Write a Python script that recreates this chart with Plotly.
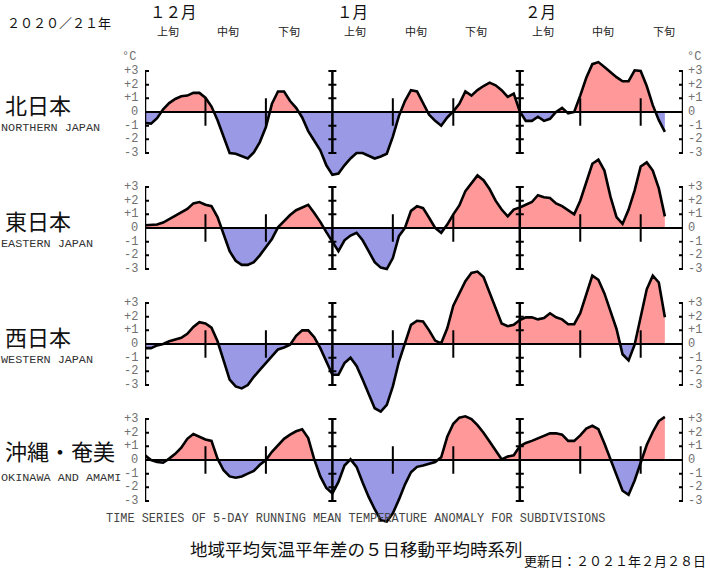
import pandas as pd
import plotly.graph_objects as go

# ---------------- data ----------------
dates = pd.date_range("2020-12-01", "2021-02-25", freq="D")  # centre dates of 5-day running mean

north = [
    -0.8, -0.85, -0.45, 0.2, 0.65, 0.95, 1.15, 1.2, 1.4, 1.4,
    1.05, 0.4, -0.6, -1.8, -3.0, -3.05, -3.25, -3.4, -2.95, -2.2,
    -1.1, 0.6, 1.5, 1.5, 0.8, 0.3, -0.4, -1.4, -2.1, -2.8,
    -3.9, -4.6, -4.5, -3.9, -3.4, -3.0, -3.0, -3.2, -3.4, -3.25,
    -3.05, -1.8, -0.3, 0.8, 1.6, 1.5, 0.6, -0.2, -0.65, -1.0,
    -0.4, 0.05, 0.6, 1.5, 1.2, 1.6, 1.9, 2.15, 1.95, 1.6,
    1.1, 1.35, 0.05, -0.65, -0.65, -0.35, -0.65, -0.5, 0.0, 0.3,
    -0.1, 0.0, 1.2, 2.5, 3.5, 3.65, 3.3, 2.9, 2.55, 2.25,
    2.25, 3.05, 3.0, 1.9, 0.5, -0.6, -1.45]

east = [
    0.2, 0.2, 0.25, 0.4, 0.65, 0.85, 1.1, 1.4, 1.8, 1.9,
    1.7, 1.6, 0.8, -0.5, -1.7, -2.4, -2.7, -2.7, -2.5, -2.0,
    -1.4, -0.8, 0.05, 0.5, 0.95, 1.3, 1.5, 1.7, 1.1, 0.45,
    -0.3, -1.0, -1.7, -0.9, -0.55, -0.35, -0.9, -1.7, -2.5, -2.9,
    -3.0, -2.2, -0.6, 0.0, 1.25, 1.6, 1.45, 0.75, 0.0, -0.35,
    0.25, 1.0, 1.65, 2.7, 3.3, 3.85, 3.5, 2.85, 2.0, 1.35,
    0.85, 1.35, 1.5, 1.7, 1.9, 2.4, 2.25, 2.2, 1.8, 1.6,
    1.3, 1.0, 2.0, 3.4, 4.7, 5.0, 4.2, 2.3, 0.8, 0.3,
    1.35, 2.75, 4.5, 4.8, 4.2, 2.9, 0.85]

west = [
    -0.3, -0.3, -0.1, 0.0, 0.2, 0.3, 0.45, 0.75, 1.25, 1.6,
    1.5, 1.2, 0.2, -1.2, -2.6, -3.1, -3.25, -3.0, -2.4, -1.9,
    -1.4, -0.9, -0.4, -0.25, -0.05, 0.6, 1.0, 1.0, 0.5, -0.3,
    -1.3, -2.25, -2.25, -1.4, -1.0, -1.6, -2.6, -3.7, -4.7, -4.95,
    -4.45, -3.1, -1.3, 0.05, 1.4, 1.7, 1.65, 1.0, 0.25, 0.05,
    1.15, 2.8, 3.7, 4.6, 5.2, 5.3, 4.9, 3.8, 2.6, 1.5,
    1.3, 1.4, 1.75, 1.95, 1.95, 1.8, 1.9, 2.25, 1.95, 1.8,
    1.45, 1.45, 2.25, 3.6, 5.0, 4.7, 3.7, 2.4, 1.1, -0.75,
    -1.2, -0.05, 2.1, 4.0, 5.0, 4.5, 1.95]

okinawa = [
    0.35, 0.0, -0.15, -0.2, 0.1, 0.45, 0.9, 1.55, 1.9, 1.7,
    1.5, 1.4, 0.1, -0.75, -1.2, -1.3, -1.2, -1.0, -0.8, -0.35,
    0.0, 0.6, 1.1, 1.55, 1.85, 2.1, 2.25, 1.6, 0.05, -1.2,
    -2.05, -2.45, -1.6, -0.4, 0.05, -0.5, -1.65, -2.7, -3.6, -4.4,
    -4.5, -3.9, -2.9, -1.8, -0.9, -0.5, -0.4, -0.3, -0.15, 0.2,
    1.7, 2.65, 3.1, 3.2, 3.0, 2.55, 2.0, 1.35, 0.7, 0.05,
    0.25, 0.35, 1.0, 1.25, 1.4, 1.6, 1.8, 1.95, 1.95, 1.85,
    1.4, 1.4, 1.8, 2.3, 2.5, 2.25, 1.2, 0.0, -1.2, -2.25,
    -2.55, -1.5, -0.2, 1.1, 2.05, 2.85, 3.15]

regions_jp = ["北日本", "東日本", "西日本", "沖縄・奄美"]
regions_en = ["NORTHERN JAPAN", "EASTERN JAPAN", "WESTERN JAPAN", "OKINAWA AND AMAMI"]
series = [north, east, west, okinawa]

tick_values = [3, 2, 1, 0, -1, -2, -3]
tick_labels = ["+3", "+2", "+1", "0", "-1", "-2", "-3"]

month_starts = ["2020-12-01", "2021-01-01", "2021-02-01"]
month_labels = ["１２月", "１月", "２月"]
decade_starts = ["2020-12-01", "2020-12-11", "2020-12-21",
                 "2021-01-01", "2021-01-11", "2021-01-21",
                 "2021-02-01", "2021-02-11", "2021-02-21"]
decade_labels = ["上旬", "中旬", "下旬"] * 3
axis_start, axis_end = "2020-12-01", "2021-02-28"

# ---------------- style / layout constants ----------------
W, H = 710, 570
X_LEFT, X_RIGHT = 145, 683
ZERO_Y = [112, 228, 344, 460]      # pixel rows of the zero lines
SCALE = 13.67                       # px per degree
R = 7.0
RED = "#ff9999"
BLUE = "#9999e6"
JP = "Noto Sans CJK JP"
MONO = "Liberation Mono"

fig = go.Figure()
shapes, annotations = [], []


def split_parts(xs, vals):
    px, py = [], []
    for i, v in enumerate(vals):
        if i > 0:
            a = vals[i - 1]
            if (a > 0 > v) or (a < 0 < v):
                t = a / (a - v)
                px.append(xs[i - 1] + (xs[i] - xs[i - 1]) * t)
                py.append(0.0)
        px.append(xs[i])
        py.append(v)
    return px, [max(v, 0) for v in py], [min(v, 0) for v in py]


layout_axes = {}
for i, (vals, y0) in enumerate(zip(series, ZERO_Y)):
    yname = "y" if i == 0 else f"y{i + 1}"
    akey = "yaxis" if i == 0 else f"yaxis{i + 1}"
    top = y0 - R * SCALE
    bot = y0 + R * SCALE
    layout_axes[akey] = dict(domain=[1 - bot / H, 1 - top / H], range=[-R, R],
                             visible=False, anchor="x", fixedrange=True)
    xs = list(dates[:len(vals)])
    px, pos, neg = split_parts(xs, vals)
    fig.add_trace(go.Scatter(x=px, y=pos, mode="lines", fill="tozeroy",
                             fillcolor=RED, line=dict(width=0, color=RED),
                             yaxis=yname, hoverinfo="skip"))
    fig.add_trace(go.Scatter(x=px, y=neg, mode="lines", fill="tozeroy",
                             fillcolor=BLUE, line=dict(width=0, color=BLUE),
                             yaxis=yname, hoverinfo="skip"))
    fig.add_trace(go.Scatter(x=xs, y=vals, mode="lines",
                             line=dict(color="black", width=2.6),
                             yaxis=yname, hoverinfo="skip"))

    # zero line
    shapes.append(dict(type="line", xref="x", yref=yname, x0=axis_start, x1=axis_end,
                       y0=0, y1=0, line=dict(color="black", width=2)))
    # long axes: left, month dividers, right
    for xd in [axis_start, month_starts[1], month_starts[2], axis_end]:
        shapes.append(dict(type="line", xref="x", yref=yname, x0=xd, x1=xd,
                           y0=-3, y1=3, line=dict(color="black", width=2.5)))
        for k in tick_values:
            shapes.append(dict(type="line", xref="x", yref=yname, xsizemode="pixel",
                               xanchor=xd, x0=-4, x1=4, y0=k, y1=k,
                               line=dict(color="black", width=2)))
    # decade ticks
    for xd in decade_starts:
        if xd in month_starts:
            continue
        shapes.append(dict(type="line", xref="x", yref=yname, x0=xd, x1=xd,
                           y0=-1, y1=1, line=dict(color="black", width=2)))
    # tick labels
    for k, lab in zip(tick_values, tick_labels):
        annotations.append(dict(text=lab, xref="paper", yref=yname, x=(X_LEFT - 6) / W,
                                y=k, xanchor="right", yanchor="middle", showarrow=False,
                                font=dict(family=MONO, size=12, color="#707070"),
                                borderpad=0))
        annotations.append(dict(text=lab, xref="paper", yref=yname, x=(X_RIGHT + 4) / W,
                                y=k, xanchor="left", yanchor="middle", showarrow=False,
                                font=dict(family=MONO, size=12, color="#707070"),
                                borderpad=0))


def pa(text, x, y, size, family=JP, color="#111", xanchor="left"):
    annotations.append(dict(text=text, xref="paper", yref="paper", x=x / W, y=1 - y / H,
                            xanchor=xanchor, yanchor="middle", showarrow=False,
                            font=dict(family=family, size=size, color=color), borderpad=0))


# region labels
title_y = [104, 220, 336, 450]
en_y = [128, 244, 360, 478]
for jp, en, ty, ey in zip(regions_jp, regions_en, title_y, en_y):
    pa(jp, 4, ty, 22)
    pa(en, 0, ey, 11.8, family=MONO, color="#333")

# °C units
pa("°C", 121, 57, 12, family=MONO, color="#707070")
pa("°C", 686, 57, 12, family=MONO, color="#707070")

# header
pa("２０２０／２１年", 6, 22, 13)
for m, lab in zip(month_starts, month_labels):
    annotations.append(dict(text=lab, xref="x", yref="paper", x=m, y=1 - 11 / H,
                            xanchor="left", yanchor="middle", xshift=4, showarrow=False,
                            font=dict(family=JP, size=15.5, color="#111"), borderpad=0))
for d, lab in zip(decade_starts, decade_labels):
    annotations.append(dict(text=lab, xref="x", yref="paper", x=d, y=1 - 31 / H,
                            xanchor="center", yanchor="middle", xshift=23, showarrow=False,
                            font=dict(family=JP, size=11, color="#222"), borderpad=0))

# footer
pa("TIME SERIES OF 5-DAY RUNNING MEAN TEMPERATURE ANOMALY FOR SUBDIVISIONS",
   356, 519, 11.9, family=MONO, color="#444", xanchor="center")
pa("地域平均気温平年差の５日移動平均時系列", 356, 548, 17.5, xanchor="center")
pa("更新日：２０２１年２月２８日", 707, 560, 13, xanchor="right")

fig.update_layout(
    width=W, height=H, autosize=False,
    margin=dict(l=0, r=0, t=0, b=0, pad=0),
    paper_bgcolor="white", plot_bgcolor="rgba(0,0,0,0)",
    showlegend=False,
    xaxis=dict(domain=[X_LEFT / W, X_RIGHT / W], range=[axis_start, axis_end],
               type="date", visible=False, fixedrange=True),
    shapes=shapes, annotations=annotations,
    **layout_axes,
)

fig.write_html("out.html", config={"displayModeBar": False},
               post_script="document.body.style.margin='0';document.body.style.padding='0';")
